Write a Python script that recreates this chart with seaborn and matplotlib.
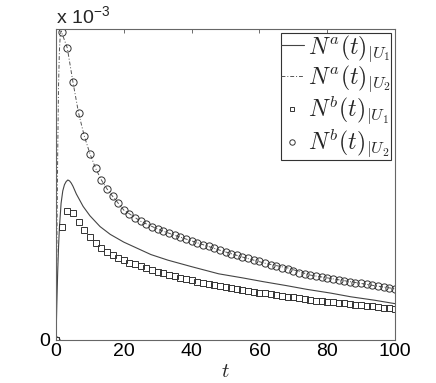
import numpy as np
import pandas as pd
import matplotlib
matplotlib.use("Agg")
import matplotlib.pyplot as plt
import seaborn as sns

sns.set_theme(style="white")
plt.rcParams['font.family'] = ['Liberation Sans', 'DejaVu Sans']
plt.rcParams['mathtext.fontset'] = 'cm'

# ---- data (y in units of 1e-3) ----
t_line_a1 = [0, 0.25, 0.5, 0.75, 1, 1.5, 2, 2.5, 3, 3.5, 4, 4.5, 5, 6, 7, 8, 10, 13, 16, 20,
             23, 28, 33, 40, 48, 55, 61, 68, 74, 81, 87, 94, 100]
na_u1 = [0, 0.12, 0.22, 0.30, 0.36, 0.44, 0.48, 0.50, 0.51, 0.515, 0.512, 0.505, 0.495, 0.47,
         0.45, 0.43, 0.40, 0.365, 0.34, 0.315, 0.30, 0.275, 0.257, 0.236, 0.213, 0.20, 0.188,
         0.175, 0.163, 0.151, 0.139, 0.128, 0.117]

t_line_a2 = [0, 0.25, 0.5, 0.75, 1.0, 1.25, 1.5, 1.67, 3.33, 5, 6.67, 8.33, 10, 11.67, 13.33,
             15, 16.67, 20, 25, 30, 35, 40, 48.33, 55, 61.67, 68.33, 75, 81.67, 86.67, 93.33, 100]
na_u2 = [0, 0.30, 0.60, 0.82, 0.93, 0.98, 0.995, 0.99, 0.94, 0.83, 0.73, 0.657, 0.60, 0.553,
         0.516, 0.487, 0.463, 0.418, 0.382, 0.357, 0.337, 0.319, 0.289, 0.267, 0.247, 0.232,
         0.209, 0.197, 0.188, 0.176, 0.165]

t_markers = np.linspace(0, 100, 61)
nb_u1 = [0, 0.365, 0.416, 0.408, 0.381, 0.354, 0.330, 0.313, 0.296, 0.283, 0.272, 0.264, 0.257,
         0.249, 0.243, 0.237, 0.231, 0.225, 0.220, 0.215, 0.210, 0.205, 0.200, 0.196, 0.192,
         0.188, 0.184, 0.180, 0.176, 0.173, 0.170, 0.167, 0.164, 0.161, 0.158, 0.155, 0.152,
         0.150, 0.147, 0.144, 0.142, 0.139, 0.137, 0.134, 0.131, 0.129, 0.127, 0.125, 0.123,
         0.121, 0.120, 0.118, 0.116, 0.114, 0.112, 0.110, 0.108, 0.106, 0.104, 0.102, 0.100]
nb_u2 = [0, 0.99, 0.94, 0.83, 0.73, 0.657, 0.60, 0.553, 0.516, 0.487, 0.463, 0.440, 0.418,
         0.404, 0.392, 0.382, 0.373, 0.365, 0.357, 0.350, 0.343, 0.337, 0.331, 0.325, 0.319,
         0.313, 0.307, 0.301, 0.295, 0.289, 0.283, 0.278, 0.273, 0.268, 0.263, 0.258, 0.253,
         0.247, 0.242, 0.237, 0.232, 0.227, 0.222, 0.217, 0.212, 0.209, 0.206, 0.203, 0.200,
         0.197, 0.194, 0.191, 0.188, 0.185, 0.182, 0.179, 0.176, 0.173, 0.171, 0.168, 0.165]

labels = [r'$N^a(t)_{|U_1}$', r'$N^a(t)_{|U_2}$', r'$N^b(t)_{|U_1}$', r'$N^b(t)_{|U_2}$']

fig = plt.figure(figsize=(4.36, 3.83), dpi=100)
ax = fig.add_axes([56/436, 1-340/383, 339/436, (340-29.3)/383])

sns.lineplot(x=t_line_a1, y=na_u1, ax=ax, color='#444444', lw=0.8, label=labels[0])
sns.lineplot(x=t_line_a2, y=na_u2, ax=ax, color='#555555', lw=0.7, linestyle='-.',
             label=labels[1], dashes=False)
ax.lines[-1].set_dashes([4, 2, 1, 2])
sns.lineplot(x=t_markers, y=nb_u1, ax=ax, linestyle='', marker='s', markersize=4.2,
             markerfacecolor='none', markeredgecolor='#333333', markeredgewidth=0.7,
             color='#333333', label=labels[2])
sns.lineplot(x=t_markers, y=nb_u2, ax=ax, linestyle='', marker='o', markersize=5.2,
             markerfacecolor='none', markeredgecolor='#333333', markeredgewidth=0.7,
             color='#333333', label=labels[3])

ax.set_xlim(0, 100)
ax.set_ylim(0, 1.0)
ax.set_xticks([0, 20, 40, 60, 80, 100])
ax.set_yticks([0])
ax.tick_params(axis='both', direction='in', length=3, width=0.6, color='#555555',
               labelsize=14, pad=2, top=True, right=True, labelcolor='black')
ax.tick_params(axis='y', pad=4)
for s in ax.spines.values():
    s.set_color('#666666')
    s.set_linewidth(0.8)
ax.set_xlabel(r'$t$', fontsize=15)
ax.xaxis.set_label_coords(0.5, -0.07)
ax.set_ylabel('')
ax.text(0.0, 1.005, r'x 10$^{\mathregular{-3}}$', transform=ax.transAxes, ha='left',
        va='bottom', fontsize=14)

leg = ax.legend(loc='upper right', fontsize=17, frameon=True, fancybox=False,
                framealpha=1, edgecolor='#333333', handlelength=0.95, handletextpad=0.2,
                borderpad=0.0, labelspacing=0.0, borderaxespad=0.15, markerscale=0.75)
leg.get_frame().set_linewidth(0.8)

fig.savefig('out.png', dpi=100)
